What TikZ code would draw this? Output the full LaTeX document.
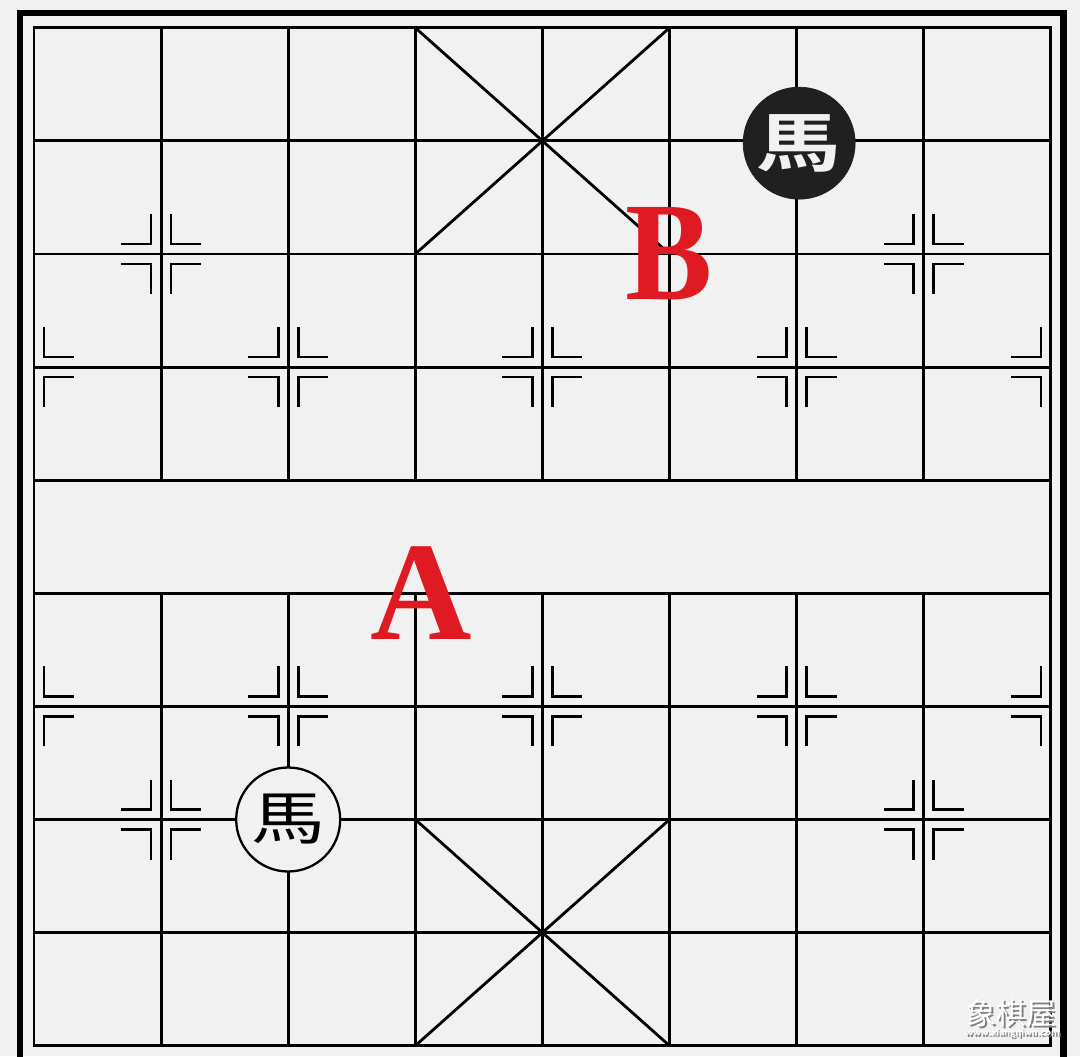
\documentclass[tikz,border=0pt]{standalone}
\usepackage{fontspec}
\usepackage{tikz}
\newfontfamily\hanzi{Noto Sans CJK TC}[BoldFont=* Bold]
\newfontfamily\letterfont{Liberation Serif}
\definecolor{boardgray}{RGB}{241,241,241}
\definecolor{labelred}{RGB}{224,26,34}
\definecolor{piecedark}{RGB}{32,32,32}
\newcommand\cornermark[4]{\draw [markline] ([shift={({(#3)*0.2cm},{(#4)*0.8cm})}]#1,#2) -- ++(0,{-1*(#4)*0.6cm}) -- ++({(#3)*0.6cm},0);}

\begin{document}
\begin{tikzpicture}[x=2.542cm,y=2.262cm]
\tikzstyle{gridline}=[black,line width=1.6pt]
\tikzstyle{markline}=[black,line width=1.5pt]
\useasboundingbox [fill=boardgray] (-0.68cm,-0.206cm) rectangle (20.92cm,20.914cm);
\draw [black,line width=3.6pt] (-0.28cm,-0.5cm) -- (-0.28cm,20.654cm) -- (20.59cm,20.654cm) -- (20.59cm,-0.5cm);
\draw [gridline] (0,0) rectangle (8,9);
\foreach \r in {1,...,8} {\draw [gridline] (0,\r) -- (8,\r);}
\foreach \c in {1,...,7} {
  \draw [gridline] (\c,0) -- (\c,4);
  \draw [gridline] (\c,5) -- (\c,9);
}
\draw [gridline] (3,0) -- (5,2);
\draw [gridline] (5,0) -- (3,2);
\draw [gridline] (3,7) -- (5,9);
\draw [gridline] (5,7) -- (3,9);
\foreach \c/\r in {1/2,7/2,1/7,7/7,2/3,4/3,6/3,2/6,4/6,6/6} {
  \foreach \sx in {-1,1} {\foreach \sy in {-1,1} {\cornermark{\c}{\r}{\sx}{\sy}}}
}
\foreach \r in {3,6} {
  \foreach \sy in {-1,1} {\cornermark{0}{\r}{1}{\sy}\cornermark{8}{\r}{-1}{\sy}}
}
\node [circle,fill=piecedark,draw=piecedark,minimum size=2.24cm,inner sep=0pt] (darkhorse) at (6.02,7.98) {\textcolor{boardgray}{\hanzi\bfseries\fontsize{48}{48}\selectfont\scalebox{1}[0.76]{馬}}};
\node [circle,fill=boardgray,draw=black,line width=1.3pt,minimum size=2.08cm,inner sep=0pt] (lighthorse) at (2,2) {\hanzi\fontsize{42}{42}\selectfont\scalebox{1}[0.78]{馬}};
\node [text=labelred] (labelB) at (5,7) {\letterfont\bfseries\fontsize{80}{80}\selectfont\scalebox{0.93}[1]{B}};
\node [text=labelred] (labelA) at (3.05,4) {\letterfont\bfseries\fontsize{80}{80}\selectfont A};
\node [text=gray] at ([shift={(0.04cm,-0.04cm)}]7.69,0.29) {\hanzi\fontsize{17}{17}\selectfont 象棋屋};
\node [text=white] (watermark) at (7.69,0.29) {\hanzi\fontsize{17}{17}\selectfont 象棋屋};
\node [text=gray] at ([shift={(0.03cm,-0.03cm)}]7.70,0.11) {\sffamily\bfseries\fontsize{5.8}{6}\selectfont www.xiangqiwu.com};
\node [text=white] (siteurl) at (7.70,0.11) {\sffamily\bfseries\fontsize{5.8}{6}\selectfont www.xiangqiwu.com};
\end{tikzpicture}
\end{document}
